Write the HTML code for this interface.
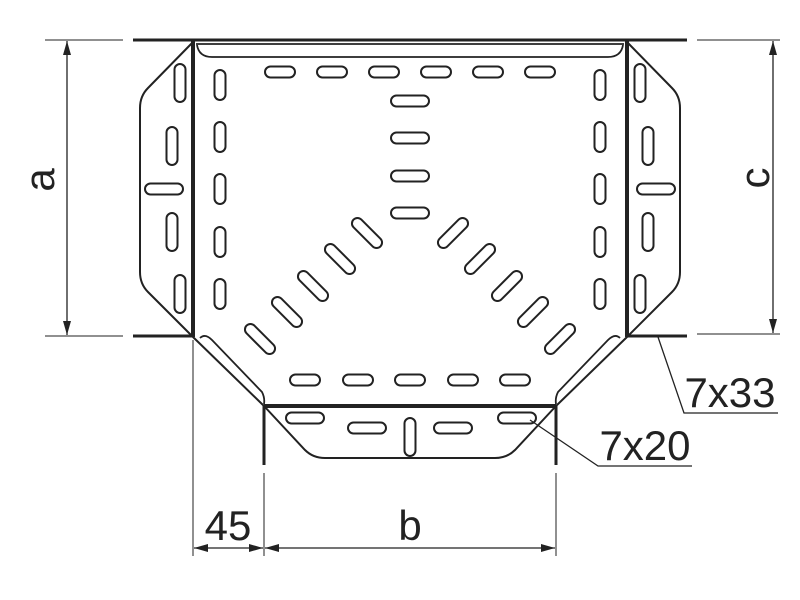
<!DOCTYPE html>
<html><head><meta charset="utf-8"><style>html,body{margin:0;padding:0;background:#fff}svg{display:block}</style></head><body>
<svg width="800" height="600" viewBox="0 0 800 600" xmlns="http://www.w3.org/2000/svg" font-family="Liberation Sans, Arial, sans-serif">
<defs>
<marker id="ar" markerWidth="14" markerHeight="8" refX="14" refY="4" orient="auto-start-reverse" markerUnits="userSpaceOnUse"><path d="M0,0 L14,4 L0,8 Z" fill="#222"/></marker>
</defs>
<g fill="none" stroke="#222" stroke-width="2">
<!-- top edges -->
<line x1="133" y1="40" x2="687" y2="40" stroke-width="3"/>
<line x1="196" y1="44" x2="624" y2="44" stroke-width="1.8"/>
<path d="M197,45 Q199,57 212,57 L608,57 Q621,57 623,45" stroke-width="1.8"/>
<!-- verticals -->
<line x1="193" y1="40" x2="193" y2="337" stroke-width="4"/>
<line x1="627" y1="40" x2="627" y2="337" stroke-width="4"/>
<line x1="133" y1="336" x2="193" y2="336" stroke-width="3"/>
<line x1="627" y1="336" x2="687" y2="336" stroke-width="3"/>
<!-- left flange -->
<path d="M193,42 L148,88 Q140,96 140,108 L140,272 Q140,284 148,292 L193,337"/>
<path d="M627,42 L672,88 Q680,96 680,108 L680,272 Q680,284 672,292 L627,337"/>
<!-- diagonals -->
<line x1="193" y1="337" x2="264" y2="406" stroke-width="2"/>
<path d="M200,338 Q205,333 212,340 L262,392 Q265,398 264,404" stroke-width="1.8"/>
<line x1="627" y1="337" x2="556" y2="406" stroke-width="2"/>
<path d="M620,338 Q615,333 608,340 L558,392 Q555,398 556,404" stroke-width="1.8"/>
<line x1="264" y1="406" x2="556" y2="406" stroke-width="4"/>
<!-- bottom flange -->
<path d="M264,406 L305,450 Q313,458 325,458 L495,458 Q507,458 515,450 L556,406"/>
<line x1="264" y1="406" x2="264" y2="465" stroke-width="3"/>
<line x1="556" y1="406" x2="556" y2="465" stroke-width="3"/>
<!-- extension lines -->
<line x1="193" y1="340" x2="193" y2="556" stroke-width="1"/>
<line x1="264" y1="473" x2="264" y2="556" stroke-width="1"/>
<line x1="556" y1="473" x2="556" y2="556" stroke-width="1"/>
<line x1="45" y1="40" x2="123" y2="40" stroke-width="1"/>
<line x1="45" y1="336" x2="123" y2="336" stroke-width="1"/>
<line x1="697" y1="40" x2="780" y2="40" stroke-width="1"/>
<line x1="697" y1="334" x2="780" y2="334" stroke-width="1"/>
<!-- dims -->
<line x1="67" y1="41" x2="67" y2="335" stroke-width="1.3" marker-start="url(#ar)" marker-end="url(#ar)"/>
<line x1="773" y1="41" x2="773" y2="333" stroke-width="1.3" marker-start="url(#ar)" marker-end="url(#ar)"/>
<line x1="194" y1="548" x2="263" y2="548" stroke-width="1.3" marker-start="url(#ar)" marker-end="url(#ar)"/>
<line x1="265" y1="548" x2="555" y2="548" stroke-width="1.3" marker-start="url(#ar)" marker-end="url(#ar)"/>
<!-- leaders -->
<polyline points="658,337 684,413 778,413" stroke-width="1.3"/>
<polyline points="530,420 598,466 692,466" stroke-width="1.3"/>
</g>
<g fill="none" stroke="#222" stroke-width="2">
<!-- top row -->
<rect x="265" y="66.5" width="30" height="11" rx="5.5"/>
<rect x="317" y="66.5" width="30" height="11" rx="5.5"/>
<rect x="369" y="66.5" width="30" height="11" rx="5.5"/>
<rect x="421" y="66.5" width="30" height="11" rx="5.5"/>
<rect x="473" y="66.5" width="30" height="11" rx="5.5"/>
<rect x="525" y="66.5" width="30" height="11" rx="5.5"/>
<!-- middle -->
<rect x="391" y="95.5" width="38" height="11" rx="5.5"/>
<rect x="391" y="132.5" width="38" height="11" rx="5.5"/>
<rect x="391" y="170.5" width="38" height="11" rx="5.5"/>
<rect x="391" y="207.5" width="38" height="11" rx="5.5"/>
<!-- inner columns -->
<rect x="214.5" y="70" width="11" height="30" rx="5.5"/>
<rect x="214.5" y="122" width="11" height="30" rx="5.5"/>
<rect x="214.5" y="174" width="11" height="30" rx="5.5"/>
<rect x="214.5" y="227" width="11" height="30" rx="5.5"/>
<rect x="214.5" y="279" width="11" height="30" rx="5.5"/>
<rect x="594.5" y="70" width="11" height="30" rx="5.5"/>
<rect x="594.5" y="122" width="11" height="30" rx="5.5"/>
<rect x="594.5" y="174" width="11" height="30" rx="5.5"/>
<rect x="594.5" y="227" width="11" height="30" rx="5.5"/>
<rect x="594.5" y="279" width="11" height="30" rx="5.5"/>
<!-- left flange -->
<rect x="174.5" y="64" width="11" height="38" rx="5.5"/>
<rect x="166.5" y="127" width="11" height="38" rx="5.5"/>
<rect x="145" y="183.5" width="38" height="11" rx="5.5"/>
<rect x="166.5" y="213" width="11" height="38" rx="5.5"/>
<rect x="174.5" y="275" width="11" height="38" rx="5.5"/>
<!-- right flange -->
<rect x="634.5" y="64" width="11" height="38" rx="5.5"/>
<rect x="642.5" y="127" width="11" height="38" rx="5.5"/>
<rect x="637" y="183.5" width="38" height="11" rx="5.5"/>
<rect x="642.5" y="213" width="11" height="38" rx="5.5"/>
<rect x="634.5" y="275" width="11" height="38" rx="5.5"/>
<!-- bottom row -->
<rect x="290" y="374.5" width="30" height="11" rx="5.5"/>
<rect x="343" y="374.5" width="30" height="11" rx="5.5"/>
<rect x="395" y="374.5" width="30" height="11" rx="5.5"/>
<rect x="448" y="374.5" width="30" height="11" rx="5.5"/>
<rect x="500" y="374.5" width="30" height="11" rx="5.5"/>
<!-- bottom flange -->
<rect x="286" y="412.5" width="38" height="11" rx="5.5"/>
<rect x="348" y="422.5" width="38" height="11" rx="5.5"/>
<rect x="434" y="422.5" width="38" height="11" rx="5.5"/>
<rect x="498" y="412.5" width="38" height="11" rx="5.5"/>
<rect x="404.5" y="418" width="11" height="38" rx="5.5"/>
<!-- diagonals left -->
<g transform="translate(367,233) rotate(45)"><rect x="-19" y="-5.5" width="38" height="11" rx="5.5"/></g>
<g transform="translate(340,259) rotate(45)"><rect x="-19" y="-5.5" width="38" height="11" rx="5.5"/></g>
<g transform="translate(313,286) rotate(45)"><rect x="-19" y="-5.5" width="38" height="11" rx="5.5"/></g>
<g transform="translate(287,312) rotate(45)"><rect x="-19" y="-5.5" width="38" height="11" rx="5.5"/></g>
<g transform="translate(260,339) rotate(45)"><rect x="-19" y="-5.5" width="38" height="11" rx="5.5"/></g>
<g transform="translate(453,233) rotate(-45)"><rect x="-19" y="-5.5" width="38" height="11" rx="5.5"/></g>
<g transform="translate(480,259) rotate(-45)"><rect x="-19" y="-5.5" width="38" height="11" rx="5.5"/></g>
<g transform="translate(507,286) rotate(-45)"><rect x="-19" y="-5.5" width="38" height="11" rx="5.5"/></g>
<g transform="translate(533,312) rotate(-45)"><rect x="-19" y="-5.5" width="38" height="11" rx="5.5"/></g>
<g transform="translate(560,339) rotate(-45)"><rect x="-19" y="-5.5" width="38" height="11" rx="5.5"/></g>
</g>
<g fill="#222" font-size="42">
<text x="228" y="540" text-anchor="middle">45</text>
<text x="410" y="540" text-anchor="middle">b</text>
<text x="730" y="407" text-anchor="middle">7x33</text>
<text x="645" y="460" text-anchor="middle">7x20</text>
<text transform="translate(54,180) rotate(-90)" text-anchor="middle">a</text>
<text transform="translate(769,178) rotate(-90)" text-anchor="middle">c</text>
</g>
</svg>
</body></html>
